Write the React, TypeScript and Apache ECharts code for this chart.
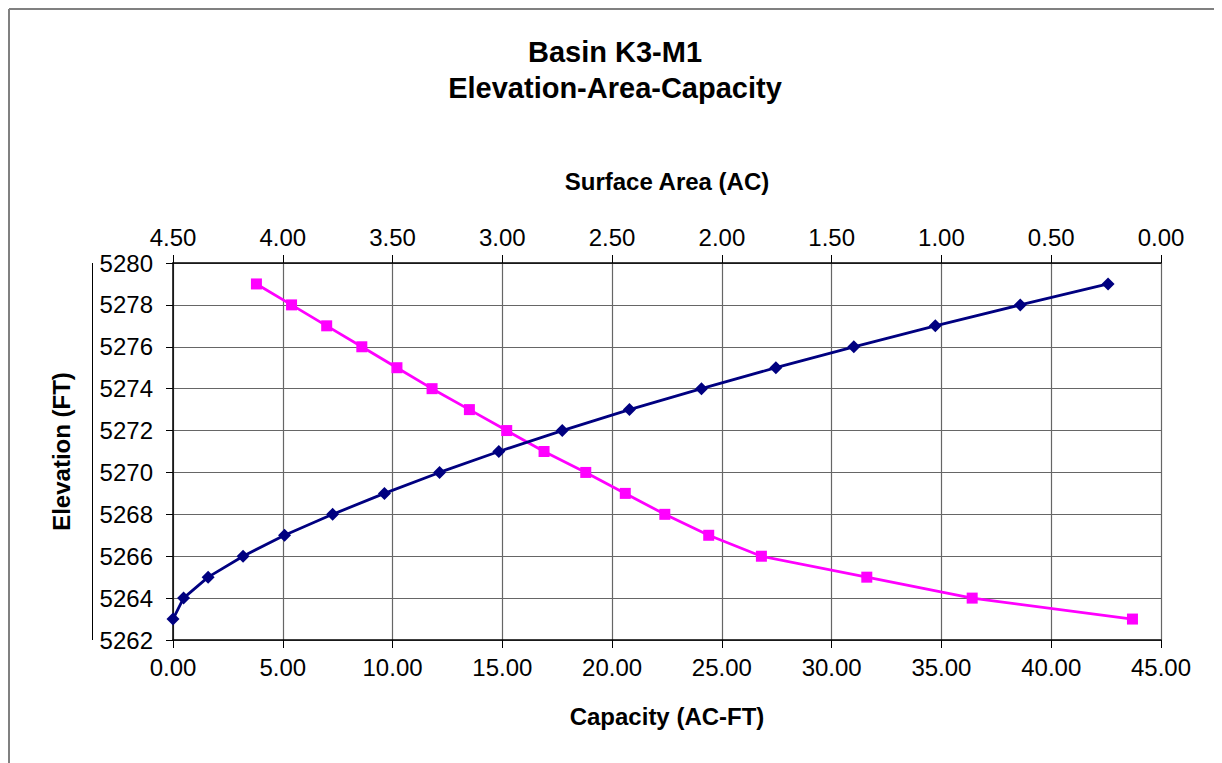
import React, { useEffect, useRef } from "react";
import * as echarts from "echarts";

const elevation = [5263, 5264, 5265, 5266, 5267, 5268, 5269, 5270, 5271, 5272, 5273, 5274, 5275, 5276, 5277, 5278, 5279];
const capacity = [0.0, 0.48, 1.6, 3.19, 5.08, 7.27, 9.63, 12.14, 14.84, 17.73, 20.79, 24.07, 27.46, 31.01, 34.72, 38.59, 42.59];
const surfaceArea = [0.13, 0.86, 1.34, 1.82, 2.06, 2.26, 2.44, 2.62, 2.81, 2.98, 3.15, 3.32, 3.48, 3.64, 3.8, 3.96, 4.12];

const titleLines = ["Basin K3-M1", "Elevation-Area-Capacity"];
const capacityTitle = "Capacity (AC-FT)";
const areaTitle = "Surface Area (AC)";
const elevationTitle = "Elevation (FT)";

const FONT = "'Liberation Sans', Arial, Helvetica, sans-serif";

export default function App() {
  const ref = useRef<HTMLDivElement>(null);
  useEffect(() => {
    if (!ref.current) return;
    const chart = echarts.init(ref.current, null, { renderer: "svg" });
    const tickLabel = { color: "#000", fontSize: 24, fontFamily: FONT };
    const nameStyle = { color: "#000", fontSize: 24, fontWeight: "bold" as const, fontFamily: FONT };
    chart.setOption({
      animation: false,
      backgroundColor: "#fff",
      title: {
        text: titleLines.join("\n"),
        left: "center",
        top: 26,
        padding: 0,
        textStyle: { color: "#000", fontSize: 29, fontWeight: "bold", fontFamily: FONT, lineHeight: 36 },
      },
      grid: { left: 165, right: 61, top: 255, bottom: 123, containLabel: false },
      xAxis: [
        {
          type: "value",
          position: "bottom",
          min: 0,
          max: 45,
          interval: 5,
          name: capacityTitle,
          nameLocation: "middle",
          nameGap: 64,
          nameTextStyle: nameStyle,
          axisLine: { show: true, onZero: false, lineStyle: { color: "#000", width: 1.5 } },
          axisTick: { show: true, length: 8, lineStyle: { color: "#000" } },
          axisLabel: { ...tickLabel, margin: 15, formatter: (v: number) => v.toFixed(2) },
          splitLine: { show: true, lineStyle: { color: "#666", width: 1.2 } },
        },
        {
          type: "value",
          position: "top",
          inverse: true,
          min: 0,
          max: 4.5,
          interval: 0.5,
          name: areaTitle,
          nameLocation: "middle",
          nameGap: 70,
          nameTextStyle: nameStyle,
          axisLine: { show: true, onZero: false, lineStyle: { color: "#000", width: 1.5 } },
          axisTick: { show: true, length: 8, lineStyle: { color: "#000" } },
          axisLabel: { ...tickLabel, margin: 14, formatter: (v: number) => v.toFixed(2) },
          splitLine: { show: false },
        },
      ],
      yAxis: {
        type: "value",
        min: 5262,
        max: 5280,
        interval: 2,
        name: elevationTitle,
        nameLocation: "middle",
        nameGap: 100,
        nameTextStyle: nameStyle,
        axisLine: { show: true, onZero: false, lineStyle: { color: "#000", width: 1.5 } },
        axisTick: { show: true, length: 7, lineStyle: { color: "#000" } },
        axisLabel: { ...tickLabel, margin: 20, formatter: (v: number) => String(v) },
        splitLine: { show: true, lineStyle: { color: "#666", width: 1.2 } },
      },
      series: [
        {
          name: "Capacity",
          type: "line",
          xAxisIndex: 0,
          yAxisIndex: 0,
          data: capacity.map((c, i) => [c, elevation[i]]),
          symbol: "diamond",
          symbolSize: 13,
          lineStyle: { color: "#000080", width: 2.8 },
          itemStyle: { color: "#000080" },
          z: 3,
        },
        {
          name: "Surface Area",
          type: "line",
          xAxisIndex: 1,
          yAxisIndex: 0,
          data: surfaceArea.map((a, i) => [a, elevation[i]]),
          symbol: "rect",
          symbolSize: 11,
          lineStyle: { color: "#FF00FF", width: 2.8 },
          itemStyle: { color: "#FF00FF" },
          z: 2,
        },
      ],
      graphic: [
        { type: "line", shape: { x1: 1, y1: 1, x2: 1214, y2: 1 }, style: { stroke: "#808080", lineWidth: 2 } },
        { type: "line", shape: { x1: 1, y1: 1, x2: 1, y2: 755 }, style: { stroke: "#808080", lineWidth: 2 } },
        { type: "line", shape: { x1: 84.5, y1: 255, x2: 84.5, y2: 632 }, style: { stroke: "#000", lineWidth: 1 } },
      ],
    });
    return () => chart.dispose();
  }, []);
  return <div ref={ref} style={{ width: 1214, height: 755 }} />;
}
